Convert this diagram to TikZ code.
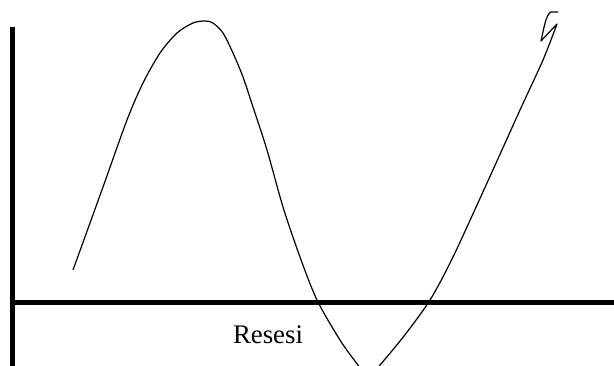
\documentclass[tikz,border=0pt]{standalone}
\usepackage{fontspec}
\setmainfont{Liberation Serif}
\usetikzlibrary{positioning}

\begin{document}
\begin{tikzpicture}[x=1pt, y=-1pt, axis/.style={line width=4.5pt}, wave/.style={line width=1.2pt, line join=round}]
    \useasboundingbox (0,0) rectangle (614,365);
    \clip (0,0) rectangle (614,365);
    \coordinate (o) at (12.5,302.5);
    \coordinate (top) at (12.5,27);
    \coordinate (bot) at (12.5,370);
    \coordinate (right) at (620,302.5);
    \draw[axis] (top) -- (bot);
    \draw[axis] (o) -- (right);
    \node[font=\fontsize{26.8}{32}\selectfont, inner sep=0pt, anchor=base] (res) at (268,343) {Resesi};
    \draw[wave] plot[smooth, tension=0.5] coordinates {(73,270) (103,187) (127,120) (143,83) (160,53) (177,33) (193,23) (205,21) (213,23) (223,33) (233,53) (243,77) (253,107) (267,150) (283,207) (300,257) (317,300) (340,340) (358,365) (369,377) (380,365) (404,336) (430,300) (453,257) (487,183) (520,110) (543,60) (557,24)}
      -- (541,41) .. controls (544,28) and (546,14) .. (551,12) -- (558,12);
\end{tikzpicture}
\end{document}
